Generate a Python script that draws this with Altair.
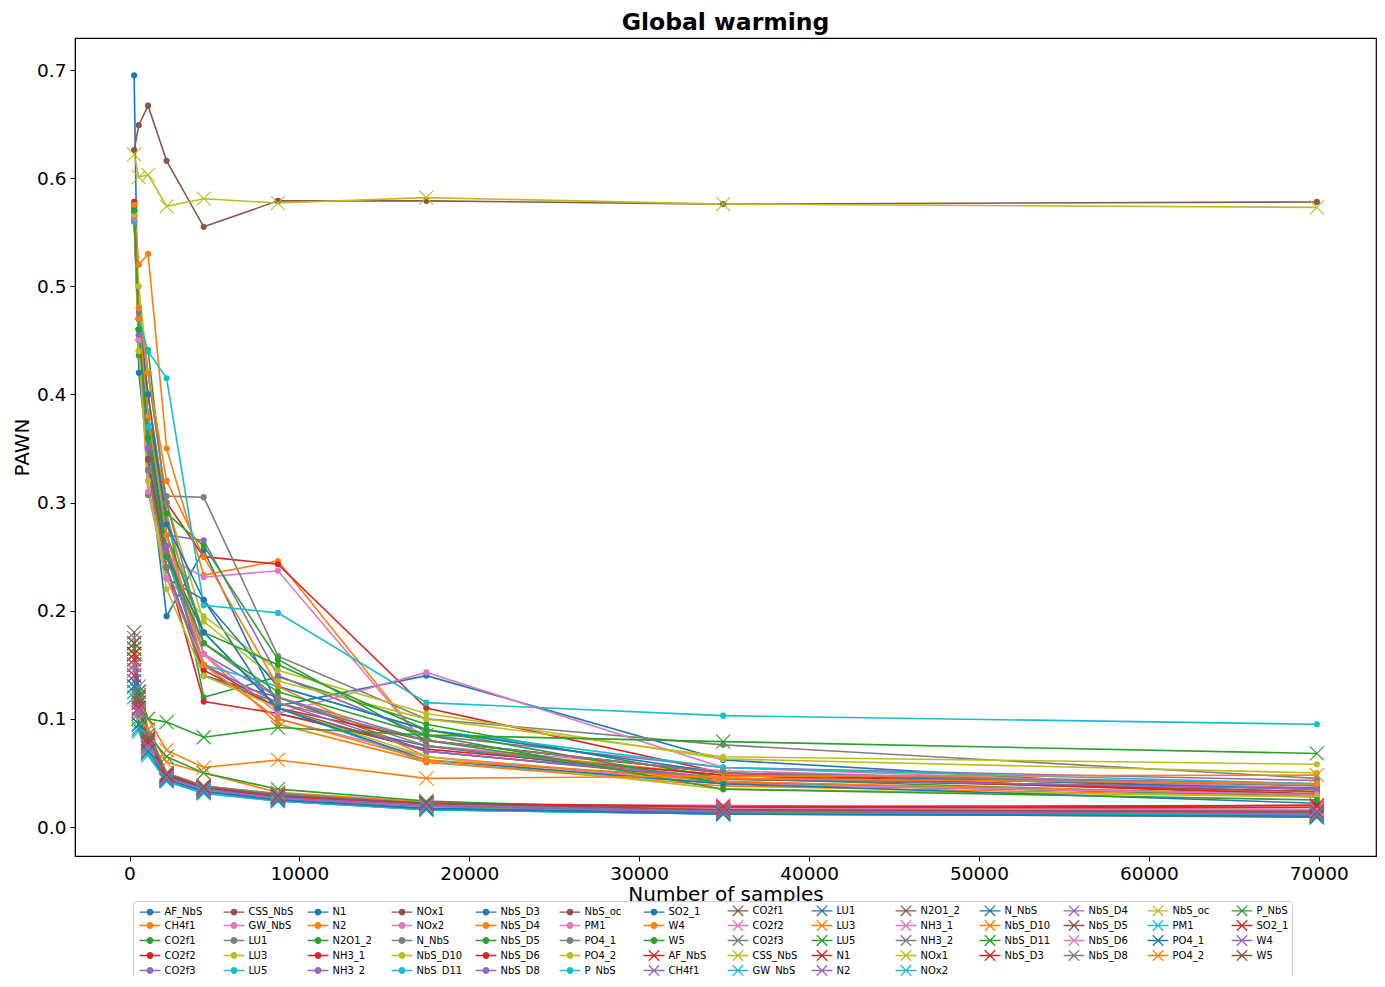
import altair as alt
import pandas as pd

samples = [273, 546, 1092, 2184, 4368, 8736, 17472, 34944, 69888]

names = ["AF_NbS", "CH4f1", "CO2f1", "CO2f2", "CO2f3", "CSS_NbS", "GW_NbS", "LU1", "LU3", "LU5",
         "N1", "N2", "N2O1_2", "NH3_1", "NH3_2", "NOx1", "NOx2", "N_NbS", "NbS_D10", "NbS_D11",
         "NbS_D3", "NbS_D4", "NbS_D5", "NbS_D6", "NbS_D8", "NbS_oc", "PM1", "PO4_1", "PO4_2", "P_NbS",
         "SO2_1", "W4", "W5"]

# series drawn with round markers
pawn_dot = {
    "AF_NbS":  [0.695, 0.420, 0.340, 0.195, 0.256, 0.112, 0.140, 0.062, 0.030],
    "CH4f1":   [0.575, 0.520, 0.530, 0.350, 0.233, 0.246, 0.075, 0.048, 0.032],
    "CO2f1":   [0.567, 0.436, 0.441, 0.290, 0.120, 0.139, 0.095, 0.045, 0.028],
    "CO2f2":   [0.578, 0.470, 0.380, 0.300, 0.250, 0.243, 0.110, 0.050, 0.035],
    "CO2f3":   [0.570, 0.480, 0.400, 0.270, 0.265, 0.140, 0.085, 0.055, 0.043],
    "CSS_NbS": [0.565, 0.460, 0.350, 0.260, 0.140, 0.120, 0.070, 0.045, 0.033],
    "GW_NbS":  [0.560, 0.450, 0.330, 0.250, 0.231, 0.237, 0.075, 0.052, 0.036],
    "LU1":     [0.560, 0.470, 0.307, 0.306, 0.305, 0.158, 0.100, 0.076, 0.045],
    "LU3":     [0.575, 0.500, 0.420, 0.300, 0.190, 0.135, 0.100, 0.065, 0.058],
    "LU5":     [0.560, 0.470, 0.380, 0.280, 0.180, 0.110, 0.060, 0.040, 0.030],
    "N1":      [0.570, 0.460, 0.360, 0.230, 0.210, 0.105, 0.075, 0.042, 0.028],
    "N2":      [0.565, 0.455, 0.400, 0.290, 0.160, 0.095, 0.060, 0.038, 0.028],
    "N2O1_2":  [0.572, 0.470, 0.380, 0.290, 0.260, 0.155, 0.080, 0.040, 0.030],
    "NH3_1":   [0.576, 0.460, 0.340, 0.240, 0.116, 0.105, 0.072, 0.048, 0.030],
    "NH3_2":   [0.568, 0.460, 0.360, 0.260, 0.160, 0.120, 0.080, 0.050, 0.040],
    "NOx1":    [0.570, 0.450, 0.340, 0.250, 0.150, 0.110, 0.070, 0.044, 0.036],
    "NOx2":    [0.565, 0.455, 0.360, 0.270, 0.160, 0.105, 0.143, 0.055, 0.035],
    "N_NbS":   [0.562, 0.476, 0.420, 0.300, 0.170, 0.120, 0.075, 0.045, 0.040],
    "NbS_D10": [0.575, 0.450, 0.330, 0.230, 0.195, 0.145, 0.105, 0.063, 0.050],
    "NbS_D11": [0.565, 0.460, 0.370, 0.250, 0.150, 0.130, 0.090, 0.055, 0.040],
    "NbS_D3":  [0.570, 0.470, 0.400, 0.280, 0.210, 0.130, 0.090, 0.050, 0.035],
    "NbS_D4":  [0.570, 0.480, 0.420, 0.320, 0.250, 0.130, 0.065, 0.042, 0.030],
    "NbS_D5":  [0.568, 0.450, 0.360, 0.270, 0.180, 0.150, 0.090, 0.040, 0.030],
    "NbS_D6":  [0.574, 0.440, 0.330, 0.240, 0.145, 0.110, 0.080, 0.050, 0.030],
    "NbS_D8":  [0.566, 0.455, 0.350, 0.255, 0.150, 0.115, 0.070, 0.045, 0.035],
    "NbS_oc":  [0.626, 0.649, 0.667, 0.616, 0.555, 0.579, 0.579, 0.576, 0.578],
    "PM1":     [0.563, 0.450, 0.310, 0.230, 0.150, 0.100, 0.065, 0.040, 0.030],
    "PO4_1":   [0.565, 0.460, 0.330, 0.240, 0.140, 0.115, 0.080, 0.050, 0.038],
    "PO4_2":   [0.566, 0.440, 0.320, 0.220, 0.140, 0.110, 0.065, 0.035, 0.028],
    "P_NbS":   [0.570, 0.470, 0.440, 0.415, 0.205, 0.198, 0.115, 0.103, 0.095],
    "SO2_1":   [0.575, 0.470, 0.380, 0.250, 0.180, 0.110, 0.062, 0.040, 0.022],
    "W4":      [0.575, 0.470, 0.380, 0.270, 0.150, 0.100, 0.062, 0.045, 0.040],
    "W5":      [0.570, 0.460, 0.360, 0.250, 0.170, 0.125, 0.085, 0.035, 0.025],
}

# series drawn with x markers
pawn_cross = {
    "AF_NbS":  [0.150, 0.110, 0.080, 0.048, 0.038, 0.030, 0.022, 0.017, 0.020],
    "CH4f1":   [0.140, 0.100, 0.075, 0.045, 0.035, 0.027, 0.020, 0.015, 0.013],
    "CO2f1":   [0.180, 0.125, 0.085, 0.050, 0.037, 0.030, 0.022, 0.017, 0.014],
    "CO2f2":   [0.155, 0.115, 0.078, 0.047, 0.034, 0.028, 0.021, 0.020, 0.015],
    "CO2f3":   [0.165, 0.120, 0.080, 0.046, 0.036, 0.029, 0.020, 0.014, 0.011],
    "CSS_NbS": [0.145, 0.105, 0.072, 0.045, 0.033, 0.026, 0.018, 0.013, 0.010],
    "GW_NbS":  [0.130, 0.095, 0.070, 0.044, 0.033, 0.025, 0.017, 0.013, 0.012],
    "LU1":     [0.125, 0.090, 0.068, 0.043, 0.032, 0.024, 0.016, 0.012, 0.010],
    "LU3":     [0.150, 0.105, 0.075, 0.046, 0.035, 0.028, 0.020, 0.015, 0.012],
    "LU5":     [0.160, 0.115, 0.078, 0.048, 0.036, 0.029, 0.021, 0.016, 0.010],
    "N1":      [0.140, 0.100, 0.072, 0.044, 0.034, 0.027, 0.021, 0.018, 0.016],
    "N2":      [0.150, 0.110, 0.076, 0.046, 0.035, 0.027, 0.019, 0.014, 0.012],
    "N2O1_2":  [0.170, 0.120, 0.082, 0.048, 0.036, 0.028, 0.022, 0.016, 0.013],
    "NH3_1":   [0.145, 0.105, 0.074, 0.046, 0.034, 0.027, 0.020, 0.016, 0.014],
    "NH3_2":   [0.160, 0.130, 0.090, 0.050, 0.038, 0.030, 0.021, 0.013, 0.009],
    "NOx1":    [0.150, 0.100, 0.072, 0.044, 0.033, 0.026, 0.018, 0.013, 0.011],
    "NOx2":    [0.120, 0.088, 0.066, 0.042, 0.031, 0.024, 0.016, 0.012, 0.011],
    "N_NbS":   [0.135, 0.095, 0.070, 0.043, 0.032, 0.025, 0.017, 0.013, 0.012],
    "NbS_D10": [0.160, 0.120, 0.090, 0.060, 0.050, 0.032, 0.023, 0.016, 0.012],
    "NbS_D11": [0.170, 0.120, 0.085, 0.065, 0.050, 0.035, 0.024, 0.015, 0.009],
    "NbS_D3":  [0.155, 0.110, 0.076, 0.047, 0.035, 0.028, 0.022, 0.018, 0.018],
    "NbS_D4":  [0.145, 0.105, 0.073, 0.045, 0.034, 0.026, 0.019, 0.014, 0.010],
    "NbS_D5":  [0.165, 0.118, 0.080, 0.047, 0.035, 0.028, 0.021, 0.016, 0.015],
    "NbS_D6":  [0.150, 0.108, 0.075, 0.045, 0.034, 0.027, 0.020, 0.017, 0.016],
    "NbS_D8":  [0.175, 0.125, 0.085, 0.050, 0.038, 0.031, 0.022, 0.014, 0.010],
    "NbS_oc":  [0.622, 0.601, 0.603, 0.574, 0.581, 0.577, 0.582, 0.576, 0.573],
    "PM1":     [0.125, 0.092, 0.068, 0.043, 0.032, 0.024, 0.016, 0.012, 0.011],
    "PO4_1":   [0.130, 0.095, 0.070, 0.044, 0.033, 0.025, 0.017, 0.012, 0.010],
    "PO4_2":   [0.150, 0.115, 0.100, 0.071, 0.055, 0.062, 0.045, 0.047, 0.048],
    "P_NbS":   [0.165, 0.125, 0.100, 0.097, 0.083, 0.092, 0.085, 0.079, 0.068],
    "SO2_1":   [0.160, 0.115, 0.078, 0.048, 0.036, 0.028, 0.022, 0.019, 0.020],
    "W4":      [0.150, 0.108, 0.075, 0.046, 0.035, 0.027, 0.020, 0.015, 0.012],
    "W5":      [0.170, 0.122, 0.082, 0.049, 0.037, 0.029, 0.022, 0.016, 0.014],
}

x_ticks = [0, 10000, 20000, 30000, 40000, 50000, 60000, 70000]
y_ticks = [0.0, 0.1, 0.2, 0.3, 0.4, 0.5, 0.6, 0.7]

tab10 = ["#1f77b4", "#ff7f0e", "#2ca02c", "#d62728", "#9467bd",
         "#8c564b", "#e377c2", "#7f7f7f", "#bcbd22", "#17becf"]

# ---- build long table ----
rows = []
keys = []
for grp, table in (("o", pawn_dot), ("x", pawn_cross)):
    for n in names:
        key = f"{grp}:{n}"
        keys.append(key)
        for s, v in zip(samples, table[n]):
            rows.append({"key": key, "grp": grp, "samples": s, "pawn": v})
df = pd.DataFrame(rows)
key_color = {k: tab10[i % 10] for i, k in enumerate(keys)}

# legend: 14 columns filled column-wise (like matplotlib); vega fills row-wise
ncol = 14
nfull = len(keys) % ncol
nrows = -(-len(keys) // ncol)
legend_keys = []
for r in range(nrows):
    for c in range(ncol):
        if c < nfull:
            idx = c * nrows + r
        else:
            if r >= nrows - 1:
                continue
            idx = nfull * nrows + (c - nfull) * (nrows - 1) + r
        legend_keys.append(keys[idx])


def ring(r):
    return f"M-{r},0A{r},{r},0,1,1,{r},0A{r},{r},0,1,1,-{r},0"


legend_dot = "M-1.9,0L1.9,0" + "".join(ring(r) for r in (0.5, 0.36, 0.22, 0.08))
legend_cross = "M-1.9,0L1.9,0M-0.95,-0.95L0.95,0.95M0.95,-0.95L-0.95,0.95"

color_scale = alt.Scale(domain=legend_keys, range=[key_color[k] for k in legend_keys])
shape_scale = alt.Scale(domain=legend_keys,
                        range=[legend_cross if k.startswith("x:") else legend_dot for k in legend_keys])


def make_legend():
    return alt.Legend(
        title=None, orient="none", legendX=58, legendY=863, direction="horizontal",
        columns=ncol, gridAlign="all", symbolLimit=100,
        symbolSize=121, symbolStrokeWidth=1.3, symbolFillColor="transparent",
        symbolOffset=7.5, labelOffset=8,
        labelFont="DejaVu Sans", labelFontSize=10, labelColor="black",
        labelExpr="slice(datum.label, 2)",
        rowPadding=-9.5, columnPadding=9, padding=3,
        strokeColor="#cccccc", cornerRadius=3, fillColor="white",
        symbolOpacity=1,
    )


x_enc = alt.X("samples:Q",
              scale=alt.Scale(domain=[-3208, 73369], nice=False, zero=False),
              axis=alt.Axis(values=x_ticks, format="d", title="Number of samples",
                            titlePadding=2, labelPadding=3))
y_enc = alt.Y("pawn:Q",
              scale=alt.Scale(domain=[-0.0268, 0.7296], nice=False, zero=False),
              axis=alt.Axis(values=y_ticks, format=".1f", title="PAWN",
                            titlePadding=4, labelPadding=4))

base = alt.Chart(df)

lines = base.mark_line(strokeWidth=1.6).encode(
    x=x_enc, y=y_enc,
    color=alt.Color("key:N", scale=color_scale, legend=make_legend()),
)
dots = base.transform_filter(alt.datum.grp == "o").mark_point(
    shape="circle", filled=True, size=38, opacity=1
).encode(x=x_enc, y=y_enc, color=alt.Color("key:N", scale=color_scale))
crosses = base.transform_filter(alt.datum.grp == "x").mark_point(
    shape="M-1,-1L1,1M1,-1L-1,1", filled=False, size=196, strokeWidth=1.1, opacity=1
).encode(x=x_enc, y=y_enc, color=alt.Color("key:N", scale=color_scale))

# legend carrier (no visible marks: the filter keeps no row)
legend_layer = base.transform_filter(alt.datum.pawn < -1).mark_point(opacity=1).encode(
    x=x_enc, y=y_enc,
    color=alt.Color("key:N", scale=color_scale),
    shape=alt.Shape("key:N", scale=shape_scale, legend=make_legend()),
)

chart = alt.layer(lines, dots, crosses, legend_layer).properties(
    width=1301, height=818,
    title=alt.TitleParams("Global warming", font="DejaVu Sans", fontSize=23.5,
                          fontWeight="bold", color="black", anchor="middle", offset=4),
    autosize=alt.AutoSizeParams(type="none"),
    padding={"left": 67, "top": 30, "right": 1, "bottom": 120},
).configure(
    font="DejaVu Sans",
).configure_view(
    stroke="black", strokeWidth=1.2,
).configure_axis(
    grid=False, domainColor="black", tickColor="black", tickSize=5,
    labelColor="black", titleColor="black", labelFontSize=18.5, titleFontSize=20,
    titleFontWeight="normal", labelFont="DejaVu Sans", titleFont="DejaVu Sans",
)

chart.save("out.html", embed_options={"renderer": "svg", "actions": False})
